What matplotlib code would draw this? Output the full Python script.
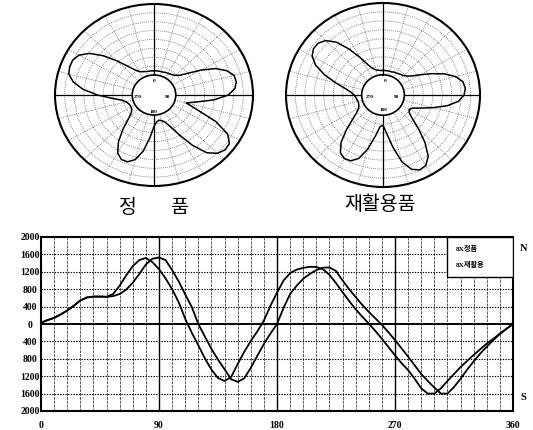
import numpy as np
import matplotlib
matplotlib.use("Agg")
import matplotlib.pyplot as plt
from matplotlib.patches import Rectangle

# ---------------- data ----------------
polar_angles = list(range(0, 360, 5))  # compass degrees, clockwise from north
polar_left_r = [0.06, 0.06, 0.06, 0.06, 0.06, 0.07, 0.07, 0.08, 0.09, 0.11,
                0.15, 0.25, 0.42, 0.60, 0.72, 0.79, 0.80, 0.77, 0.68, 0.50,
                0.28, 0.15, 0.30, 0.60, 0.82, 0.91, 0.92, 0.88, 0.78, 0.58,
                0.36, 0.20, 0.12, 0.09, 0.08, 0.10, 0.16, 0.32, 0.52, 0.66,
                0.72, 0.72, 0.66, 0.52, 0.34, 0.18, 0.10, 0.07, 0.06, 0.06,
                0.07, 0.09, 0.14, 0.26, 0.45, 0.64, 0.78, 0.86, 0.88, 0.88,
                0.84, 0.74, 0.58, 0.40, 0.25, 0.15, 0.10, 0.08, 0.07, 0.06,
                0.06, 0.06]
polar_right_r = [0.06, 0.06, 0.06, 0.06, 0.06, 0.07, 0.07, 0.08, 0.09, 0.10,
                 0.13, 0.18, 0.28, 0.42, 0.58, 0.71, 0.79, 0.81, 0.79, 0.72,
                 0.58, 0.40, 0.25, 0.15, 0.12, 0.14, 0.22, 0.38, 0.58, 0.76,
                 0.85, 0.87, 0.82, 0.68, 0.45, 0.25, 0.14, 0.16, 0.30, 0.50,
                 0.66, 0.73, 0.74, 0.70, 0.58, 0.40, 0.24, 0.14, 0.09, 0.07,
                 0.06, 0.06, 0.07, 0.08, 0.10, 0.14, 0.22, 0.36, 0.54, 0.70,
                 0.80, 0.84, 0.84, 0.79, 0.68, 0.50, 0.32, 0.18, 0.11, 0.08,
                 0.07, 0.06]
polar_titles = ["정", "품", "재활용품"]
polar_labels = ["0", "90", "180", "270"]

angle_deg = list(range(0, 365, 5))
series_genuine = [30, 90, 140, 220, 310, 420, 540, 610, 630, 630,
                  625, 690, 880, 1120, 1330, 1470, 1520, 1420, 1260, 1050,
                  800, 500, 120, -200, -490, -790, -1050, -1240, -1310, -1220,
                  -920, -640, -390, -170, 80, 420, 720, 1000, 1170, 1250,
                  1290, 1315, 1310, 1260, 1130, 940, 730, 530, 340, 170,
                  10, -160, -340, -530, -720, -900, -1060, -1260, -1480, -1600,
                  -1600, -1480, -1310, -1150, -990, -850, -710, -580, -450, -340,
                  -220, -110, 0]
series_recycled = [30, 90, 140, 220, 310, 420, 540, 610, 630, 630,
                   625, 640, 690, 790, 950, 1150, 1370, 1500, 1530, 1470,
                   1240, 980, 680, 390, 0, -290, -570, -820, -1040, -1270,
                   -1330, -1250, -1010, -730, -460, -220, 0, 370, 690, 880,
                   1040, 1150, 1240, 1295, 1300, 1220, 1000, 800, 620, 440,
                   280, 130, -20, -190, -370, -560, -750, -950, -1150, -1310,
                   -1460, -1600, -1600, -1450, -1260, -1050, -860, -680, -520, -370,
                   -230, -110, 0]
series_names = ["8X정품", "8X재활용"]
y_ticks = [2000, 1600, 1200, 800, 400, 0, -400, -800, -1200, -1600, -2000]
y_tick_labels = ["2000", "1600", "1200", "800", "400", "0", "400", "800", "1200", "1600", "2000"]
x_ticks = [0, 90, 180, 270, 360]
x_tick_labels = ["0", "90", "180", "270", "360"]

# ---------------- figure ----------------
W, H = 533, 430
fig = plt.figure(figsize=(W / 100, H / 100), dpi=100)
fig.patch.set_facecolor("white")

def px_rect(x0, y0, x1, y1):
    return [x0 / W, 1 - y1 / H, (x1 - x0) / W, (y1 - y0) / H]

serif = ["Liberation Serif", "DejaVu Serif"]
cjk = ["Noto Sans CJK KR", "DejaVu Sans"]
mixed = ["Liberation Serif", "Noto Sans CJK KR", "DejaVu Sans"]


def polar_panel(rect, r_vals, label_pos):
    ax = fig.add_axes(rect, projection="polar")
    ax.set_aspect("auto")
    ax.set_theta_zero_location("N")
    ax.set_theta_direction(-1)
    ax.set_ylim(0, 1)
    ax.set_rorigin(-0.282)
    ax.set_xticks(np.deg2rad(np.arange(0, 360, 15)))
    ax.set_xticklabels([])
    ax.set_yticks(np.arange(0.125, 1.0, 0.125))
    ax.set_yticklabels([])
    ax.tick_params(length=0)
    ax.grid(True, color="0.3", linestyle=(0, (1, 1.6)), linewidth=0.55)
    ax.spines["polar"].set_linewidth(1.5)
    if "inner" in ax.spines:
        ax.spines["inner"].set_linewidth(1.2)
    for a in (0, 90, 180, 270):
        ax.plot([np.deg2rad(a)] * 2, [0, 1], color="black", lw=0.9)
    th = np.deg2rad(polar_angles + [polar_angles[0] + 360])
    rr = list(r_vals) + [r_vals[0]]
    ax.plot(th, rr, color="black", lw=1.1)
    for lab, (x, y) in zip(polar_labels, label_pos):
        fig.text(x / W, 1 - y / H, lab, fontsize=3.8, ha="center", va="center",
                 family=serif, weight="bold")
    return ax


polar_panel(px_rect(55, 4, 253, 186), polar_left_r,
            [(154, 81), (168, 97), (154, 112), (138, 97)])
polar_panel(px_rect(286, 3, 480, 187), polar_right_r,
            [(385, 81), (397, 97), (384, 110), (370, 97)])

fig.text(128 / W, 1 - 207 / H, polar_titles[0], fontsize=14, ha="center", va="center", family=cjk)
fig.text(179 / W, 1 - 207 / H, polar_titles[1], fontsize=14, ha="center", va="center", family=cjk)
fig.text(380 / W, 1 - 205 / H, polar_titles[2], fontsize=14, ha="center", va="center", family=cjk)

# ---------------- line chart ----------------
ax = fig.add_axes(px_rect(41, 237, 513, 411))
ax.set_xlim(0, 360)
ax.set_ylim(-2000, 2000)
for xv in range(10, 360, 10):
    if xv % 90 == 0:
        ax.axvline(xv, color="black", lw=1.0, zorder=1)
    else:
        ax.axvline(xv, color="0.35", lw=0.7, linestyle=(0, (3, 1)), zorder=1)
for yv in y_ticks:
    if yv == 0:
        ax.axhline(0, color="black", lw=1.4, zorder=1)
    elif abs(yv) < 2000:
        ax.axhline(yv, color="black", lw=0.8, linestyle=(0, (1.2, 1.2)), zorder=1)

ax.plot(angle_deg, series_genuine, color="black", lw=1.3, zorder=3)
ax.plot(angle_deg, series_recycled, color="black", lw=1.3, zorder=3)

ax.set_yticks(y_ticks)
ax.set_yticklabels(y_tick_labels)
ax.set_xticks(x_ticks)
ax.set_xticklabels(x_tick_labels)
ax.tick_params(length=0)
ax.tick_params(axis="y", pad=8)
ax.tick_params(axis="x", pad=7)
for t in ax.get_yticklabels():
    t.set_ha("center")
for t in ax.get_yticklabels() + ax.get_xticklabels():
    t.set_family(serif)
    t.set_weight("bold")
    t.set_fontsize(7)
for s in ax.spines.values():
    s.set_linewidth(1.5)

# legend box
x0 = (447 - 41) / 472
y0 = (411 - 277) / 174
ax.add_patch(Rectangle((x0, y0), 1 - x0, 1 - y0, transform=ax.transAxes,
                       facecolor="white", edgecolor="black", lw=1.0, zorder=5))
fig.text(456 / W, 1 - 249 / H, series_names[0], fontsize=5.2, ha="left", va="center",
         family=mixed, weight="bold", zorder=6)
fig.text(456 / W, 1 - 264 / H, series_names[1], fontsize=5.2, ha="left", va="center",
         family=mixed, weight="bold", zorder=6)

fig.text(523 / W, 1 - 248 / H, "N", fontsize=7.5, ha="center", va="center", family=serif, weight="bold")
fig.text(523 / W, 1 - 398 / H, "S", fontsize=7.5, ha="center", va="center", family=serif, weight="bold")

fig.savefig("out.png", dpi=100, facecolor="white")
